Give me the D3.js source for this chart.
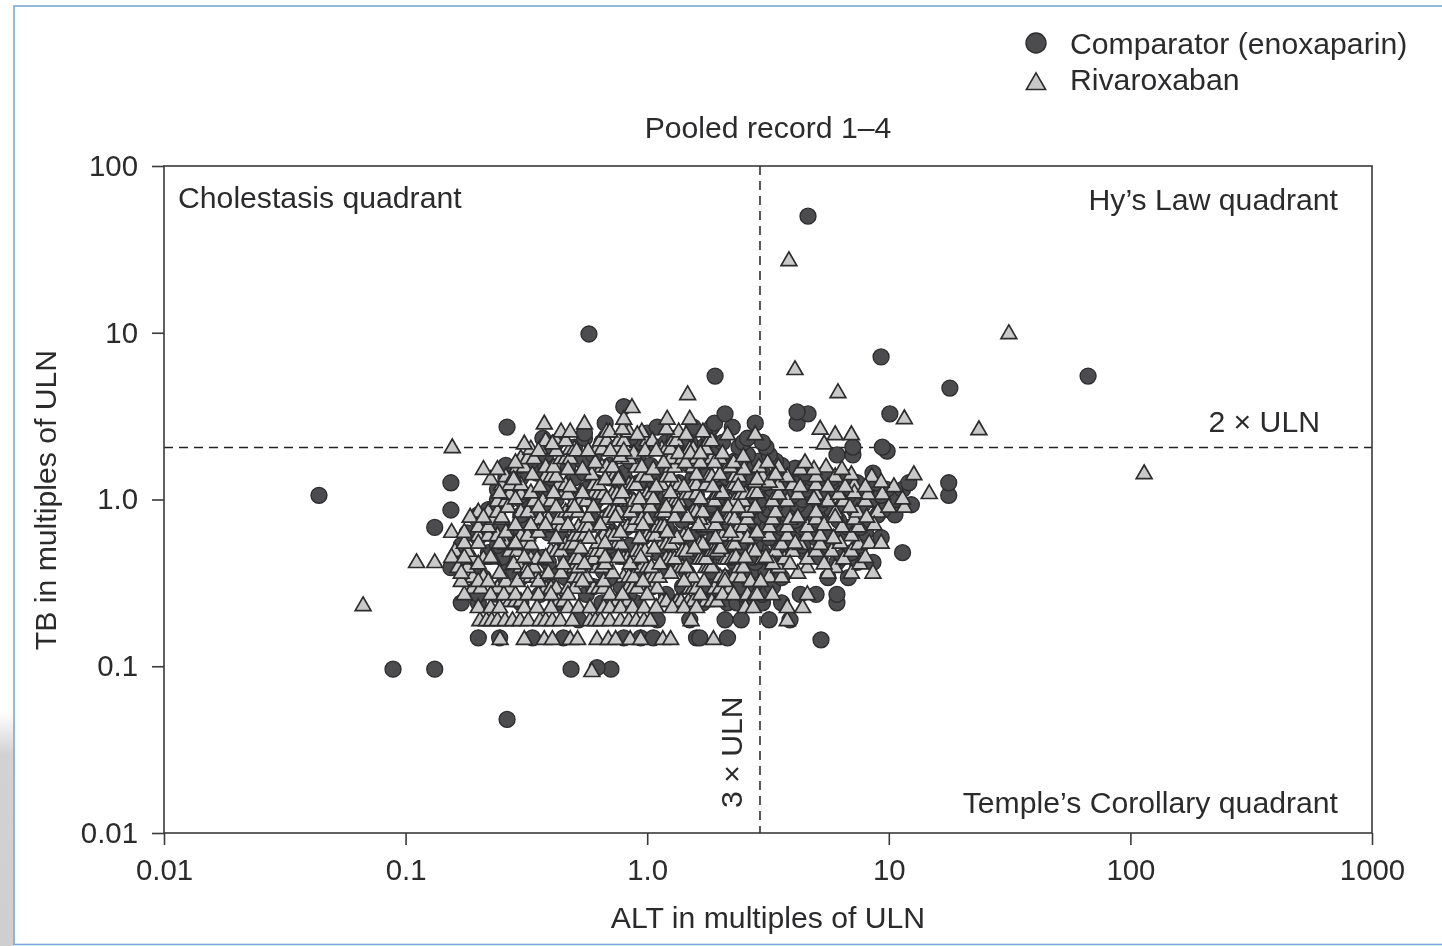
<!DOCTYPE html>
<html>
<head>
<meta charset="utf-8">
<script src="https://cdnjs.cloudflare.com/ajax/libs/d3/7.8.5/d3.min.js"></script>
<style>
  html, body { margin: 0; padding: 0; background: #fff; overflow: hidden; }
  svg { display: block; filter: blur(0.45px); }
  text { font-family: "Liberation Sans", Arial, sans-serif; fill: #2b2b2d; }
</style>
</head>
<body>
<div id="plot"></div>
<script>

var xTicks = [0.01, 0.1, 1, 10, 100, 1000];
var xTickLabels = ['0.01', '0.1', '1.0', '10', '100', '1000'];
var yTicks = [0.01, 0.1, 1, 10, 100];
var yTickLabels = ['0.01', '0.1', '1.0', '10', '100'];

// where the dashed limits sit in the picture (labelled 2 x and 3 x ULN)
var tbLimit = 2.05;
var altLimit = 2.93;

// comparator, one list of ALT per TB level
var comparatorTB = [0.048, 0.096, 0.098, 0.144, 0.148, 0.19, 0.24, 0.27, 0.3, 0.34, 0.37, 0.39, 0.42, 0.45, 0.48, 0.53, 0.59, 0.63, 0.68, 0.75, 0.81, 0.865, 0.87, 0.93, 1, 1.06, 1.15, 1.26, 1.35, 1.44, 1.54, 1.6, 1.7, 1.85, 1.95, 2.06, 2.2, 2.33, 2.5, 2.72, 2.87, 3.26, 3.35, 3.6, 4.66, 5.5, 7.16, 9.83, 50];
var comparatorALT = [
  [0.263],
  [0.0887, 0.132, 0.484, 0.708],
  [0.62],
  [5.24],
  [0.2, 0.245, 0.335, 0.45, 0.8, 0.94, 1.06, 1.6, 1.65, 2.15],
  [0.52, 1.1, 1.5, 2.1, 2.45, 3.2, 3.9],
  [0.17, 0.2, 0.3, 0.42, 0.65, 0.9, 1.3, 1.7, 2.15, 2.35, 2.6, 3, 3.6, 6.1],
  [0.2, 0.24, 0.36, 0.56, 0.84, 1.2, 1.9, 2.5, 3, 4.3, 5, 6.1],
  [0.25, 0.4, 0.6, 0.78, 1.05, 1.4, 1.75, 2.05, 2.4, 2.75, 3.3],
  [0.21, 0.3, 0.46, 0.7, 1, 1.5, 2.1, 2.6, 3.6, 5.6, 6.8],
  [0.19, 0.27, 0.4, 0.52, 0.66, 0.9, 1.15, 1.45, 1.85, 2.35, 2.7, 3.1],
  [0.154],
  [0.18, 0.26, 0.39, 0.6, 0.86, 1.3, 1.8, 2.3, 2.8, 3.3, 6.1, 7.4, 8.6],
  [0.17, 0.25, 0.37, 0.46, 0.66, 0.92, 1.2, 1.45, 1.75, 2.2, 2.75, 3.3, 5.2, 6.4],
  [0.22, 0.33, 0.52, 0.76, 1.1, 1.6, 2, 2.5, 3, 3.6, 4.5, 7, 11.4],
  [0.17, 0.24, 0.32, 0.48, 0.7, 0.85, 1.2, 1.55, 1.8, 2.1, 2.45, 2.8, 3.5, 4.4, 5.6, 7.6],
  [0.2, 0.29, 0.44, 0.66, 0.96, 1.4, 1.9, 2.3, 2.7, 3.2, 3.9, 5, 6, 9.3],
  [0.18, 0.22, 0.26, 0.33, 0.39, 0.52, 0.72, 1.05, 1.25, 1.6, 2, 2.4, 2.9, 3.4, 4.2, 5.4, 6.5, 8],
  [0.132, 0.24, 0.36, 0.55, 0.82, 1.2, 1.7, 2.15, 2.5, 3, 3.6, 4.4, 6.8, 7.6],
  [0.2, 0.3, 0.42, 0.6, 0.9, 1.1, 1.4, 1.85, 2.3, 2.75, 3.3, 4.1, 5, 6.2, 8.4],
  [0.2, 0.24, 0.3, 0.46, 0.7, 1.04, 1.5, 2, 2.6, 3.1, 3.8, 4.6, 5.5, 9, 10.6],
  [0.154],
  [0.22, 0.35, 0.5, 0.8, 1.15, 1.75, 2.15, 2.65, 3.2, 3.8, 4.5, 5.8, 7.2, 9.5],
  [0.25, 0.4, 0.6, 0.9, 1.3, 1.85, 2.4, 2.9, 3.4, 4.2, 5.2, 6.5, 7.8, 12.4],
  [0.24, 0.3, 0.36, 0.42, 0.62, 0.85, 1.25, 1.45, 1.95, 2.45, 3, 3.6, 4.4, 5.4, 7.2, 8.6, 10.6],
  [0.0438, 0.3, 0.5, 0.74, 1.08, 1.6, 2.2, 2.7, 3.3, 4, 4.8, 5.6, 6.8, 9.3, 17.7],
  [0.24, 0.38, 0.56, 0.78, 1.05, 1.5, 2.05, 2.6, 3.3, 3.9, 4.6, 6, 7, 8, 9.8, 11.4],
  [0.154, 0.27, 0.42, 0.62, 0.92, 1.35, 1.9, 2.5, 3.1, 3.6, 4.2, 5.1, 6.2, 7.4, 8.9, 12.1, 17.7],
  [0.26, 0.3, 0.4, 0.5, 0.7, 1.1, 1.55, 2.15, 2.7, 3.4, 4, 4.8, 5.8, 6.8],
  [0.35, 0.55, 0.8, 1.2, 1.75, 2.4, 3, 3.7, 4.5, 5.5, 8.6],
  [4.1],
  [0.26, 0.3, 0.38, 0.47, 0.7, 1.03, 1.5, 2.1, 2.8, 3.6],
  [0.33, 0.54, 0.85, 1.25, 1.7, 2.3, 2.9, 3.4],
  [0.38, 0.6, 0.92, 1.35, 1.9, 2.6, 3.2, 6.1, 7.1],
  [9.84],
  [0.5, 0.75, 1.1, 1.7, 2.4, 3.1, 7.1, 9.4],
  [0.42, 0.65, 0.95, 1.2, 1.5, 2.05, 2.5, 3],
  [0.37, 0.55, 0.85, 1.3, 1.8, 2.6],
  [0.55, 1],
  [0.263, 1.1, 1.55, 1.85, 2.25],
  [0.67, 1.9, 2.8, 4.17],
  [2.1, 4.63, 10.1],
  [4.17],
  [0.8],
  [17.9],
  [1.91, 66.8],
  [9.29],
  [0.574],
  [4.63]
];

// rivaroxaban half hidden inside the cloud, tight runs that leave only a slanted edge
var hiddenTB = [0.25, 0.3, 0.35, 0.4, 0.45, 0.5, 0.55, 0.62, 0.7, 0.78, 0.86, 1, 1.1, 1.25, 1.4, 1.6, 1.8, 2.05, 2.3, 2.6];
var hiddenALT = [
  [0.27, 0.285, 0.3, 0.43, 0.45, 0.75, 0.8, 0.83, 1.15, 1.2, 1.33, 1.38, 1.48, 1.55, 1.75, 1.85, 1.95],
  [0.19, 0.205, 0.24, 0.27, 0.38, 0.4, 0.42, 0.47, 0.5, 0.6, 0.63, 0.66, 0.83, 0.87, 0.91, 1.05, 1.1, 1.5, 1.55, 1.6, 1.9, 2, 2.2],
  [0.18, 0.19, 0.21, 0.31, 0.33, 0.35, 0.5, 0.53, 0.56, 0.8, 0.84, 0.88, 1.02, 1.07, 1.12, 1.5, 1.55, 2, 2.1, 2.3, 2.45, 3.2, 3.6],
  [0.165, 0.18, 0.3, 0.32, 0.34, 0.48, 0.5, 0.52, 0.62, 0.65, 0.95, 1, 1.04, 1.35, 1.4, 1.45, 1.75, 1.8, 1.85, 2.4, 2.5, 3.5, 4.6, 6],
  [0.19, 0.21, 0.23, 0.33, 0.35, 0.5, 0.52, 0.58, 0.6, 0.8, 0.83, 0.87, 1.2, 1.25, 1.3, 1.65, 1.7, 1.75, 2.1, 2.15, 2.25, 3, 3.7, 4.6, 6.5],
  [0.16, 0.18, 0.27, 0.29, 0.4, 0.42, 0.44, 0.6, 0.62, 0.65, 0.9, 0.94, 0.98, 1.4, 1.45, 1.85, 1.9, 1.95, 2.7, 2.8, 3.4, 4, 5, 5.8, 7],
  [0.26, 0.28, 0.31, 0.33, 0.46, 0.48, 0.5, 0.72, 0.75, 0.78, 1.15, 1.2, 1.25, 1.65, 1.7, 2.25, 2.3, 3.6, 4.3, 5.2, 7.5],
  [0.2, 0.22, 0.24, 0.3, 0.32, 0.5, 0.52, 0.55, 0.66, 0.7, 0.73, 1, 1.04, 1.08, 1.42, 1.48, 2, 2.05, 2.3, 2.4, 3.2, 3.8, 4.6, 5.2, 7],
  [0.2, 0.22, 0.42, 0.44, 0.52, 0.55, 0.57, 0.8, 0.83, 0.87, 1.1, 1.14, 1.18, 1.72, 1.78, 2.4, 2.5, 3.2, 3.8, 4.6, 6.4, 7.5],
  [0.23, 0.25, 0.36, 0.39, 0.43, 0.65, 0.68, 0.9, 0.95, 1, 1.6, 1.65, 2.15, 2.2, 2.3, 2.6, 3.3, 3.9, 5, 7.2],
  [0.2, 0.22, 0.24, 0.3, 0.32, 0.46, 0.48, 0.52, 0.7, 0.73, 0.76, 0.85, 1.15, 1.18, 1.55, 1.6, 1.7, 2.55, 2.6, 3.4, 5, 6, 7.4, 9],
  [0.24, 0.26, 0.34, 0.37, 0.4, 0.5, 0.53, 0.56, 0.82, 0.85, 0.88, 1.25, 1.3, 1.35, 1.85, 1.9, 2.2, 2.3, 2.5, 3.3, 3.8, 5.6, 6.5, 8],
  [0.27, 0.3, 0.45, 0.47, 0.6, 0.63, 0.66, 0.72, 0.75, 1, 1.04, 1.45, 1.5, 1.6, 1.95, 2, 2.45, 2.55, 3.5, 4.2, 5, 6.2, 8.2, 9.4],
  [0.25, 0.27, 0.3, 0.43, 0.46, 0.6, 0.63, 0.84, 0.87, 0.9, 1.15, 1.3, 1.35, 1.55, 1.6, 1.75, 2.25, 2.3, 3.5, 4, 5, 7.2],
  [0.26, 0.28, 0.38, 0.4, 0.42, 0.7, 0.73, 0.76, 0.95, 1, 1.2, 1.25, 1.8, 1.85, 2.3, 2.4, 3, 3.8, 5, 6, 8.5],
  [0.29, 0.31, 0.38, 0.41, 0.65, 0.68, 0.72, 0.9, 0.95, 1.25, 1.3, 1.55, 2.15, 2.2, 2.9, 3.5, 5.5],
  [0.3, 0.32, 0.34, 0.44, 0.46, 0.48, 0.8, 0.84, 1.2, 1.25, 1.4, 1.55, 1.6, 1.85, 2],
  [0.33, 0.36, 0.48, 0.5, 0.62, 0.65, 0.75, 1.15, 1.2, 1.25, 1.5, 1.55, 1.7, 1.75],
  [0.38, 0.42, 0.46, 0.64, 0.68, 0.76, 0.8, 1, 1.05, 1.28, 1.32, 1.8, 1.85],
  [0.44, 0.48, 0.68, 0.7, 0.84, 0.95, 1.35, 1.7]
];

// rivaroxaban that stay fully visible
var rivaroxabanTB = [0.148, 0.192, 0.23, 0.275, 0.33, 0.37, 0.42, 0.46, 0.52, 0.56, 0.6, 0.65, 0.72, 0.8, 0.92, 1.03, 1.12, 1.22, 1.3, 1.35, 1.44, 1.55, 1.7, 1.85, 1.93, 2, 2.2, 2.5, 2.7, 2.9, 3.1];
var rivaroxabanALT = [
  [0.246, 0.31, 0.375, 0.405, 0.48, 0.515, 0.62, 0.69, 0.74, 0.85, 0.94, 1.16, 1.25, 1.88],
  [0.203, 0.216, 0.227, 0.24, 0.258, 0.277, 0.298, 0.322, 0.36, 0.38, 0.405, 0.437, 0.49, 0.58, 0.61, 0.64, 0.7, 0.775, 0.84, 0.9, 0.97, 1.03, 1.52, 3.8],
  [0.2, 0.225, 0.245, 0.31, 0.35, 0.4, 0.47, 0.52, 0.58, 0.66, 0.7, 0.775, 0.87, 0.97, 1.09, 1.27, 1.42, 1.6, 2.55, 2.75, 3.8, 4.4],
  [0.175, 0.225, 0.255, 0.285, 0.32, 0.355, 0.4, 0.47, 0.7, 0.79, 1, 1.66, 2.05, 2.28, 2.6, 2.8, 2.85, 3.3, 4.6],
  [0.17, 0.2, 0.22, 0.26, 0.29, 0.355, 0.54, 0.66, 0.96, 1.42, 1.72, 2.1, 2.68, 2.95],
  [0.17, 0.245, 0.32, 0.39, 0.44, 0.72, 1.25, 4.2, 5.6, 7, 8.6],
  [0.2, 0.28, 0.45, 0.55, 0.67, 0.85, 1.13, 3.3, 3.9, 5.4, 7.6],
  [0.155, 0.175, 0.225, 0.31, 0.38, 0.67, 0.76, 0.94, 2.33, 2.55, 3.1, 8],
  [0.53, 1.07, 1.57, 2.01],
  [0.175, 0.2, 0.245, 0.285, 0.625, 0.67, 4.1, 6.3, 8.3, 9.3],
  [0.42, 0.575, 0.93, 1.33, 1.92, 2.6, 5.9],
  [0.155, 0.175, 0.26, 0.355, 0.775, 1.21, 2.21, 2.85],
  [0.285, 0.33, 0.38, 0.47, 0.64, 0.96, 1.63, 1.92, 5.4, 8.7],
  [0.185, 0.21, 0.25, 0.57, 0.74, 1.3, 1.47, 1.95, 4.2, 6, 8.1],
  [0.265, 0.355, 0.42, 0.5, 0.6, 0.91, 1.03, 1.2, 1.35, 2.16, 2.38, 2.8, 6.9, 10, 11.6],
  [0.285, 0.68, 0.77, 0.93, 1.06, 1.66, 4.9, 11.4],
  [0.245, 0.33, 0.41, 0.54, 0.79, 1.25, 2.05, 2.75, 2.85, 7.2],
  [0.36, 0.48, 1.09, 1.42, 1.87, 2.38, 4.3, 5.6, 6.6, 8, 10.5],
  [2.8, 3.2, 9.3],
  [0.225, 0.28, 0.67, 0.76, 2.85],
  [0.335, 0.59, 1.6, 2, 3.4, 7],
  [0.21, 0.24, 0.47, 0.54, 1.06, 2.52, 4.3, 4.9, 6.4],
  [0.285, 0.61, 1.17, 1.44, 1.66, 1.9, 2.28, 3.15, 4.5],
  [0.775, 2.5],
  [0.88, 1.35, 1.51, 1.66, 2.05],
  [0.355, 0.42, 0.51, 0.57, 0.704, 0.8, 0.98, 1.09],
  [0.31, 0.405, 5.4],
  [0.91, 1.45, 2.15, 2.8, 6, 7],
  [0.79, 1.2, 5.2],
  [0.375, 0.55],
  [0.8, 1.21, 1.5]
];

// the ones sitting away from the cloud
var rivaroxabanOutlierALT = [3.86, 31.4, 4.09, 6.16, 1.47, 0.865, 11.6, 23.6, 114, 14.7, 12.7, 0.156, 0.0667, 0.111, 0.132, 0.59];
var rivaroxabanOutlierTB = [27.7, 10.1, 6.15, 4.47, 4.35, 3.64, 3.12, 2.68, 1.46, 1.11, 1.44, 2.09, 0.236, 0.428, 0.428, 0.095];

var legendLabels = ['Comparator (enoxaparin)', 'Rivaroxaban'];

var width = 1442, height = 946;
var left = 164, right = 1372, top_ = 166, bottom = 833;
var triangleDrop = 2;   // d3 centres the triangle on its centroid, picture reads lower

var svg = d3.select('#plot').append('svg').attr('width', width).attr('height', height);

// page shadow + blue frame of the figure box
var defs = svg.append('defs');
var shade = defs.append('linearGradient').attr('id', 'shade')
    .attr('x1', 0).attr('x2', 0).attr('y1', 0).attr('y2', 1);
shade.append('stop').attr('offset', '0%').attr('stop-color', '#fff');
shade.append('stop').attr('offset', '18%').attr('stop-color', '#d2d2d2');
shade.append('stop').attr('offset', '100%').attr('stop-color', '#cfcfcf');

svg.append('rect').attr('width', width).attr('height', height).attr('fill', '#fff');
svg.append('rect').attr('x', 0).attr('y', 712).attr('width', 14).attr('height', 234).attr('fill', 'url(#shade)');
svg.append('rect').attr('x', 14).attr('y', 6).attr('width', 1440).attr('height', 938.5)
    .attr('fill', '#fff').attr('stroke', '#79a9d8').attr('stroke-width', 1.6);

var x_scale = d3.scaleLog().domain([0.01, 1000]).range([left, right]);
var y_scale = d3.scaleLog().domain([0.01, 100]).range([bottom, top_]);

// dashed limits run under the points
var limits = svg.append('g').attr('fill', 'none').attr('stroke', '#222').attr('stroke-width', 1.5)
    .attr('stroke-dasharray', '9 6');
limits.append('line').attr('x1', left).attr('x2', right)
    .attr('y1', y_scale(tbLimit)).attr('y2', y_scale(tbLimit));
limits.append('line').attr('x1', x_scale(altLimit)).attr('x2', x_scale(altLimit))
    .attr('y1', top_).attr('y2', bottom);

function flatten(tbs, alts) {
    var out = [];
    tbs.forEach(function(tb, i) {
        alts[i].forEach(function(alt) { out.push([alt, tb]); });
    });
    return out;
}

var circles = flatten(comparatorTB, comparatorALT);
var hidden = flatten(hiddenTB, hiddenALT);
var triangles = flatten(rivaroxabanTB, rivaroxabanALT);
rivaroxabanOutlierALT.forEach(function(alt, i) { triangles.push([alt, rivaroxabanOutlierTB[i]]); });

svg.append('g').selectAll('circle').data(circles).enter().append('circle')
    .attr('cx', function(d) { return x_scale(d[0]); })
    .attr('cy', function(d) { return y_scale(d[1]); })
    .attr('r', 8)
    .attr('fill', '#4c4c4e')
    .attr('stroke', '#2c2c2e')
    .attr('stroke-width', 1.3);

var triangle = d3.symbol().type(d3.symbolTriangle).size(108);
[hidden, triangles].forEach(function(set) {
    svg.append('g').selectAll('path').data(set).enter().append('path')
        .attr('transform', function(d) { return 'translate(' + x_scale(d[0]) + ',' + (y_scale(d[1]) + triangleDrop) + ')'; })
        .attr('d', triangle())
        .attr('fill', '#c9c9c9')
        .attr('stroke', '#2c2c2e')
        .attr('stroke-width', 1.7);
});

// plot box
svg.append('rect').attr('x', left).attr('y', top_)
    .attr('width', right - left).attr('height', bottom - top_)
    .attr('fill', 'none').attr('stroke', '#3a3a3a').attr('stroke-width', 1.6);

var xAxis = svg.append('g').attr('transform', 'translate(0,' + bottom + ')')
    .call(d3.axisBottom(x_scale).tickValues(xTicks).tickSize(12).tickPadding(14)
        .tickFormat(function(d, i) { return xTickLabels[i]; }));
var yAxis = svg.append('g').attr('transform', 'translate(' + left + ',0)')
    .call(d3.axisLeft(y_scale).tickValues(yTicks).tickSize(12).tickPadding(14)
        .tickFormat(function(d, i) { return yTickLabels[i]; }));
xAxis.select('.domain').remove();
yAxis.select('.domain').remove();
svg.selectAll('.tick line').attr('stroke', '#3a3a3a').attr('stroke-width', 1.6);
svg.selectAll('.tick text').style('font-size', '29.4px').style('font-family', '"Liberation Sans", Arial, sans-serif').attr('fill', '#2b2b2d');

function label(str, x, y, anchor, rotate) {
    var t = svg.append('text').attr('font-size', '30.2px').attr('text-anchor', anchor).text(str);
    if (rotate) t.attr('transform', 'translate(' + x + ',' + y + ') rotate(-90)');
    else t.attr('x', x).attr('y', y);
    return t;
}

label('ALT in multiples of ULN', 768, 928, 'middle');
label('TB in multiples of ULN', 56, 500, 'middle', true);
label('Pooled record 1\u20134', 768, 138, 'middle');
label('Cholestasis quadrant', 178, 208, 'start');
label('Hy\u2019s Law quadrant', 1338, 210, 'end');
label('Temple\u2019s Corollary quadrant', 1338, 813, 'end');
label('2 \u00d7 ULN', 1320, 432, 'end');
label('3 \u00d7 ULN', 742, 808, 'start', true);

// legend
svg.append('circle').attr('cx', 1036).attr('cy', 43).attr('r', 10)
    .attr('fill', '#4c4c4e').attr('stroke', '#2c2c2e').attr('stroke-width', 1.4);
svg.append('path').attr('transform', 'translate(1036,84)')
    .attr('d', d3.symbol().type(d3.symbolTriangle).size(160)())
    .attr('fill', '#c9c9c9').attr('stroke', '#2c2c2e').attr('stroke-width', 1.6);
label(legendLabels[0], 1070, 54, 'start');
label(legendLabels[1], 1070, 90, 'start');

</script>
</body>
</html>
